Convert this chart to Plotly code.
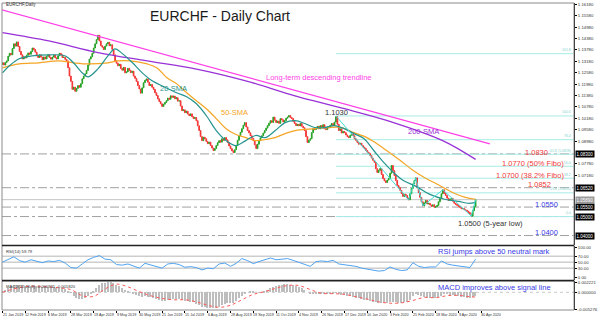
import plotly.graph_objects as go

# ---------------- DATA ----------------
closes = [
    1.1310, 1.1298, 1.1312, 1.1320, 1.1345, 1.1360, 1.1352, 1.1385, 1.1410, 1.1398, 1.1420, 1.1396, 1.1370, 1.1352, 1.1330, 1.1342,
    1.1336, 1.1350, 1.1362, 1.1355, 1.1370, 1.1388, 1.1380, 1.1366, 1.1347, 1.1338, 1.1352, 1.1340, 1.1326, 1.1341, 1.1330, 1.1344,
    1.1352, 1.1338, 1.1329, 1.1340, 1.1351, 1.1336, 1.1330, 1.1347, 1.1360, 1.1352, 1.1338, 1.1340, 1.1328, 1.1320, 1.1284, 1.1240,
    1.1212, 1.1170, 1.1182, 1.1160, 1.1175, 1.1190, 1.1181, 1.1200, 1.1226, 1.1240, 1.1252, 1.1270, 1.1298, 1.1330, 1.1342, 1.1360,
    1.1388, 1.1410, 1.1432, 1.1455, 1.1425, 1.1400, 1.1392, 1.1380, 1.1398, 1.1410, 1.1418, 1.1400, 1.1405, 1.1380, 1.1352, 1.1320,
    1.1308, 1.1294, 1.1302, 1.1280, 1.1271, 1.1286, 1.1257, 1.1262, 1.1281, 1.1270, 1.1258, 1.1266, 1.1240, 1.1228, 1.1212, 1.1190,
    1.1172, 1.1150, 1.1178, 1.1205, 1.1218, 1.1225, 1.1208, 1.1190, 1.1196, 1.1181, 1.1170, 1.1152, 1.1138, 1.1120, 1.1106, 1.1094,
    1.1080, 1.1092, 1.1101, 1.1110, 1.1124, 1.1118, 1.1136, 1.1128, 1.1135, 1.1120, 1.1126, 1.1108, 1.1110, 1.1082, 1.1058, 1.1062,
    1.1047, 1.1055, 1.1040, 1.1032, 1.1041, 1.1026, 1.1016, 1.1022, 1.1005, 1.0978, 1.0953, 1.0921, 1.0900, 1.0918, 1.0910, 1.0896,
    1.0884, 1.0892, 1.0874, 1.0861, 1.0848, 1.0858, 1.0874, 1.0889, 1.0900, 1.0892, 1.0910, 1.0902, 1.0916, 1.0904, 1.0890, 1.0872,
    1.0858, 1.0846, 1.0837, 1.0852, 1.0874, 1.0902, 1.0926, 1.0944, 1.0963, 1.0981, 1.0995, 1.0972, 1.0953, 1.0941, 1.0926, 1.0912,
    1.0900, 1.0878, 1.0858, 1.0881, 1.0900, 1.0915, 1.0926, 1.0940, 1.0953, 1.0966, 1.0979, 1.0992, 1.1005, 1.0996, 1.1024, 1.1008,
    1.0995, 1.1003, 1.0991, 1.1016, 1.1010, 1.0998, 1.1005, 1.1018, 1.1024, 1.1032, 1.1022, 1.1016, 1.1001, 1.0990, 1.0979, 1.0986,
    1.0978, 1.0990, 1.0976, 1.0968, 1.0953, 1.0921, 1.0890, 1.0902, 1.0910, 1.0942, 1.0963, 1.0958, 1.0968, 1.0975, 1.0962, 1.0979,
    1.0971, 1.0984, 1.0963, 1.0958, 1.0972, 1.0968, 1.0981, 1.0990, 1.0979, 1.0998, 1.1026, 1.0986, 1.0953, 1.0962, 1.0940, 1.0948,
    1.0942, 1.0930, 1.0921, 1.0916, 1.0928, 1.0935, 1.0926, 1.0910, 1.0902, 1.0890, 1.0881, 1.0886, 1.0874, 1.0866, 1.0859, 1.0848,
    1.0839, 1.0832, 1.0821, 1.0808, 1.0796, 1.0785, 1.0752, 1.0732, 1.0744, 1.0753, 1.0722, 1.0700, 1.0688, 1.0679, 1.0692, 1.0700,
    1.0728, 1.0769, 1.0742, 1.0716, 1.0690, 1.0664, 1.0652, 1.0638, 1.0621, 1.0606, 1.0618, 1.0611, 1.0598, 1.0588, 1.0620, 1.0648,
    1.0672, 1.0690, 1.0704, 1.0654, 1.0626, 1.0601, 1.0578, 1.0556, 1.0572, 1.0585, 1.0566, 1.0570, 1.0561, 1.0554, 1.0562, 1.0549,
    1.0552, 1.0559, 1.0578, 1.0596, 1.0620, 1.0641, 1.0622, 1.0611, 1.0597, 1.0585, 1.0592, 1.0596, 1.0581, 1.0570, 1.0565, 1.0559,
    1.0554, 1.0549, 1.0541, 1.0543, 1.0536, 1.0533, 1.0528, 1.0522, 1.0514, 1.0502, 1.0531, 1.0552, 1.0589,
]
first_open = 1.1302

sma20_idx = [0, 4.8, 11.7, 20.7, 32.5, 44.2, 49.8, 56.7, 60.1, 67, 74, 78.8, 84.3, 91.2, 98.1, 105, 113.3, 122.3,
             129.2, 136.1, 143.1, 150, 156.9, 163.8, 170.7, 177.6, 184.5, 191.4, 198.3, 205.3, 212.2, 219.1,
             226, 232.9, 239.8, 246.7, 253.6, 260.5, 267.5, 274.4, 281.3, 290.3, 299.9, 310.3, 320, 326.9, 332]
sma20_val = [1.1257, 1.1294, 1.1331, 1.1346, 1.1352, 1.1346, 1.1310, 1.1252, 1.1236, 1.1278, 1.1346, 1.1383, 1.1357,
             1.1310, 1.1257, 1.1215, 1.1184, 1.1152, 1.1131, 1.1094, 1.1031, 1.0953, 1.0900, 1.0874, 1.0900, 1.0927,
             1.0916, 1.0953, 1.0995, 1.1005, 1.0990, 1.0969, 1.0969, 1.0979, 1.0963, 1.0937, 1.0911, 1.0848, 1.0785,
             1.0732, 1.0690, 1.0659, 1.0617, 1.0591, 1.0580, 1.0570, 1.0575]

sma50_idx = [0, 11.7, 25.6, 39.4, 49.8, 60.1, 74, 80.9, 89.8, 101.6, 108.5, 115.4, 122.3, 129.2, 136.1, 143.1, 150,
             156.9, 163.8, 170.7, 177.6, 184.5, 191.4, 198.3, 205.3, 219.1, 228.1, 237.7, 246.7, 255.7, 260.5,
             269.5, 279.2, 288.2, 297.2, 306.8, 315.8, 324.8, 332]
sma50_val = [1.1283, 1.1304, 1.1310, 1.1320, 1.1310, 1.1304, 1.1310, 1.1320, 1.1320, 1.1304, 1.1283, 1.1231, 1.1199,
             1.1152, 1.1110, 1.1068, 1.1016, 1.0963, 1.0932, 1.0916, 1.0900, 1.0906, 1.0916, 1.0937, 1.0953, 1.0963,
             1.0969, 1.0969, 1.0942, 1.0916, 1.0895, 1.0848, 1.0795, 1.0743, 1.0701, 1.0664, 1.0627, 1.0601, 1.0591]

sma200_idx = [0, 32.5, 67, 101.6, 136.1, 170.7, 205.3, 239.8, 274.4, 308.9, 332]
sma200_val = [1.1469, 1.1425, 1.1364, 1.1320, 1.1277, 1.1215, 1.1136, 1.1068, 1.0995, 1.0900, 1.0801]

trend_idx = [-2, 342]
trend_val = [1.1592, 1.0883]

zigzag_idx = [234, 285, 290, 295, 309, 329, 332]
zigzag_val = [1.1030, 1.0588, 1.0704, 1.0556, 1.0641, 1.0502, 1.0589]

fib_start = 234
fib_levels = [1.0500, 1.0625, 1.0702, 1.0765, 1.0828, 1.0905, 1.1030, 1.1358]
fib_names = ["0.0", "23.6 (1.0625)", "38.2", "50.0", "61.8 (1.0828)", "76.4", "100.0", "161.8"]

key_levels = [1.0830, 1.0652, 1.0550, 1.0500, 1.0400]
current_price = 1.0589

rsi_vals = [50, 60, 68, 55, 50, 58, 52, 48, 54, 52, 56, 47, 32, 30, 44, 58,
            66, 72, 60, 58, 42, 40, 44, 38, 30, 46, 40, 34, 30, 44, 46, 42,
            33, 35, 32, 24, 30, 28, 44, 47, 36, 46, 62, 55, 45, 52, 58, 64,
            58, 60, 62, 56, 50, 44, 36, 52, 54, 52, 56, 44, 42, 40, 36, 30,
            26, 22, 20, 22, 34, 26, 22, 24, 48, 36, 32, 34, 34, 54, 44, 40,
            38, 36, 32, 60]
rsi_idx = list(range(0, 333, 4))

macd_hist_pips = [5, 8, 12, 16, 20, 22, 22, 20,
                  18, 18, 19, 19, 18, 17, 16, 15,
                  15, 14, 14, 13, 13, 12, 10, 5,
                  -2, -10, -16, -20, -20, -17, -12, -4,
                  4, 12, 20, 26, 28, 29, 30, 27,
                  22, 17, 12, 7, 3, 0, -3, -7,
                  -12, -13, -12, -13, -15, -17, -20, -23,
                  -25, -25, -23, -21, -20, -20, -20, -23,
                  -25, -27, -28, -30, -34, -38, -42, -44,
                  -46, -47, -47, -45, -42, -38, -35, -33,
                  -32, -31, -26, -18, -10, -4, 0, 2,
                  2, 0, -2, 0, 4, 8, 12, 16,
                  19, 21, 22, 23, 23, 22, 20, 18,
                  16, 12, 6, 0, -4, -6, -6, -5,
                  -5, -5, -5, -4, -3, -2, -4, -7,
                  -9, -11, -12, -14, -16, -18, -20, -22,
                  -24, -26, -28, -30, -32, -33, -33, -33,
                  -30, -29, -30, -31, -31, -30, -28, -24,
                  -12, -6, -8, -12, -15, -17, -18, -18,
                  -17, -14, -10, -6, -6, -7, -9, -10,
                  -12, -13, -14, -16, -17, -15, -11]
macd_hist_idx = list(range(0, 333, 2))

macd_sig_pips = [0, 10, 17, 18, 16, 13, 8, -10, -12, 10, 24, 16, 2, -10, -18, -22, -22, -28, -38, -44, -38,
                 -22, -6, 2, 12, 20, 20, 8, -3, -4, -6, -13, -20, -28, -32, -31, -24, -15, -16, -10, -9, -13, -14]
macd_sig_idx = list(range(0, 329, 8)) + [332]

date_labels = ["21 Jan 2019", "12 Feb 2019", "6 Mar 2019", "28 Mar 2019", "19 Apr 2019", "9 May 2019",
               "30 May 2019", "21 Jun 2019", "15 Jul 2019", "6 Aug 2019", "28 Aug 2019", "19 Sep 2019",
               "11 Oct 2019", "4 Nov 2019", "26 Nov 2019", "17 Dec 2019", "10 Jan 2020", "3 Feb 2020",
               "25 Feb 2020", "18 Mar 2020", "9 Apr 2020", "30 Apr 2020"]
date_label_step = 16

price_ticks = [1.1618, 1.1558, 1.1498, 1.1438, 1.1378, 1.1318, 1.1258, 1.1198, 1.1138, 1.1078,
               1.1018, 1.0958, 1.0898, 1.0778, 1.0718]
rsi_ticks = [100, 70, 50, 30, 0]
macd_ticks = [0.0028, 0.0, -0.0050]
macd_tick_text = ["0.002221", "0.000000", "-0.005276"]

# ---------------- DERIVED ----------------
bars = list(range(len(closes)))
opens = [first_open] + closes[:-1]
highs = [max(o, c) for o, c in zip(opens, closes)]
lows = [min(o, c) for o, c in zip(opens, closes)]
macd_hist = [v * 1e-4 for v in macd_hist_pips]
macd_sig = [v * 1e-4 for v in macd_sig_pips]

X_RANGE = [-0.35, 401.05]
FONT = "Arial, Liberation Sans, sans-serif"
D_MAIN = [0.2110, 1.0]
D_RSI = [0.0974, 0.2094]
D_MACD = [0.0, 0.0942]

fig = go.Figure()

fig.add_trace(go.Candlestick(
    x=bars, open=opens, high=highs, low=lows, close=closes,
    increasing=dict(line=dict(color="#26a326", width=1), fillcolor="#26a326"),
    decreasing=dict(line=dict(color="#f53535", width=1), fillcolor="#f53535"),
    whiskerwidth=0, showlegend=False, hoverinfo="skip", xaxis="x", yaxis="y"))
fig.add_trace(go.Scatter(x=sma200_idx, y=sma200_val, mode="lines", line=dict(color="#9932d6", width=1.3),
                         line_shape="spline", showlegend=False, hoverinfo="skip", xaxis="x", yaxis="y"))
fig.add_trace(go.Scatter(x=sma50_idx, y=sma50_val, mode="lines", line=dict(color="#f5a524", width=1.2),
                         line_shape="spline", showlegend=False, hoverinfo="skip", xaxis="x", yaxis="y"))
fig.add_trace(go.Scatter(x=sma20_idx, y=sma20_val, mode="lines", line=dict(color="#26948f", width=1.2),
                         line_shape="spline", showlegend=False, hoverinfo="skip", xaxis="x", yaxis="y"))
fig.add_trace(go.Scatter(x=trend_idx, y=trend_val, mode="lines", line=dict(color="#ff3fe6", width=1.3),
                         showlegend=False, hoverinfo="skip", xaxis="x", yaxis="y"))
fig.add_trace(go.Scatter(x=zigzag_idx, y=zigzag_val, mode="lines", line=dict(color="#3fdcd4", width=1),
                         showlegend=False, hoverinfo="skip", xaxis="x", yaxis="y"))

fig.add_trace(go.Scatter(x=rsi_idx, y=rsi_vals, mode="lines", line=dict(color="#4fa3f2", width=1),
                         showlegend=False, hoverinfo="skip", xaxis="x", yaxis="y2"))

fig.add_trace(go.Bar(x=macd_hist_idx, y=macd_hist, marker=dict(color="#bdbdbd", line=dict(width=0)),
                     width=1.0, showlegend=False, hoverinfo="skip", xaxis="x", yaxis="y3"))
fig.add_trace(go.Scatter(x=macd_sig_idx, y=macd_sig, mode="lines", line=dict(color="#ff5a5a", width=1, dash="dot"),
                         line_shape="spline", showlegend=False, hoverinfo="skip", xaxis="x", yaxis="y3"))

shapes = []
shapes.append(dict(type="rect", xref="paper", yref="paper", x0=0, x1=1, y0=0, y1=1,
                   line=dict(color="#8a8a8a", width=1)))
for yy in [(D_MAIN[0] + D_RSI[1]) / 2, (D_RSI[0] + D_MACD[1]) / 2]:
    shapes.append(dict(type="line", xref="paper", yref="paper", x0=0, x1=1, y0=yy, y1=yy,
                       line=dict(color="#222222", width=1.6)))
for lv in [70, 50, 30]:
    shapes.append(dict(type="line", xref="paper", yref="y2", x0=0, x1=1, y0=lv, y1=lv,
                       line=dict(color="#b5b5b5", width=1), layer="below"))
shapes.append(dict(type="line", xref="paper", yref="y3", x0=0, x1=1, y0=0, y1=0,
                   line=dict(color="#c8c8c8", width=1, dash="dot"), layer="below"))
for lv in fib_levels:
    shapes.append(dict(type="line", xref="x", yref="y", x0=fib_start, x1=X_RANGE[1], y0=lv, y1=lv,
                       line=dict(color="#a6ece6", width=1), layer="below"))
for lv in key_levels:
    shapes.append(dict(type="line", xref="paper", yref="y", x0=0, x1=1, y0=lv, y1=lv,
                       line=dict(color="#a0a0a0", width=1, dash="dashdot"), layer="below"))
shapes.append(dict(type="line", xref="paper", yref="y", x0=0, x1=1, y0=current_price, y1=current_price,
                   line=dict(color="#c4c4c4", width=1), layer="below"))

ann = []
def txt(x, y, text, color, size, xref="x", yref="y", xanchor="center", yanchor="middle", **kw):
    ann.append(dict(x=x, y=y, xref=xref, yref=yref, text=text, showarrow=False,
                    font=dict(family=FONT, size=size, color=color), xanchor=xanchor, yanchor=yanchor, **kw))

txt(0.3806, 0.9578, "EURCHF - Daily Chart", "#1a1a1a", 14, xref="paper", yref="paper")
txt(0.004, 0.9935, "EURCHF,Daily", "#333333", 4.5, xref="paper", yref="paper", xanchor="left")
txt(221.5, 1.1231, "Long-term descending trendline", "#ff3fe6", 7.5)
txt(119.8, 1.1173, "20-SMA", "#26948f", 7.5)
txt(162.5, 1.1047, "50-SMA", "#f5a524", 7.5)
txt(295.5, 1.0950, "200-SMA", "#9932d6", 7.5)
txt(234.4, 1.1047, "1.1030", "#333333", 7.5)
txt(375.0, 1.0837, "1.0830", "#f03a3a", 7.5)
txt(372.0, 1.0777, "1.0770 (50% Fibo)", "#f03a3a", 7.5)
txt(370.0, 1.0714, "1.0700 (38.2% Fibo)", "#f03a3a", 7.5)
txt(377.0, 1.0669, "1.0852", "#f03a3a", 7.5)
txt(381.6, 1.0564, "1.0550", "#3a3ae6", 7.5)
txt(342.7, 1.0465, "1.0500 (5-year low)", "#333333", 7.5)
txt(381.6, 1.0417, "1.0400", "#3a3ae6", 7.5)
txt(344.8, 86, "RSI jumps above 50 neutral mark", "#3a3ae6", 7.5, yref="y2")
txt(345.5, 0.0014, "MACD improves above signal line", "#3a3ae6", 7.5, yref="y3")
txt(0.004, D_RSI[1] - 0.004, "RSI(14) 59.79", "#333333", 4.2, xref="paper", yref="paper",
    xanchor="left", yanchor="top")
txt(0.004, D_MACD[1] - 0.004, "MACD(12,26,9) -0.000931 -0.001820", "#333333", 4.2, xref="paper", yref="paper",
    xanchor="left", yanchor="top")
for lv, nm in zip(fib_levels, fib_names):
    txt(1, lv, nm, "#7fd3cc", 3.5, xref="paper", xanchor="right", yanchor="bottom", xshift=-1, yshift=-0.5)
for lv in key_levels:
    ann.append(dict(x=1, y=lv, xref="paper", yref="y", text="%.5f" % lv, showarrow=False, xanchor="left",
                    xshift=1, font=dict(family=FONT, size=4.5, color="white"), bgcolor="#000000", borderpad=0.5))
ann.append(dict(x=1, y=current_price, xref="paper", yref="y", text="%.5f" % current_price, showarrow=False,
                xanchor="left", xshift=1, font=dict(family=FONT, size=4.5, color="white"),
                bgcolor="#9a9a9a", borderpad=0.5))
for i, lab in enumerate(date_labels):
    ann.append(dict(x=i * date_label_step, y=-0.002, xref="x", yref="paper", text=lab, showarrow=False,
                    xanchor="left", yanchor="top", xshift=-2, font=dict(family=FONT, size=3.7, color="#333333")))

axis_common = dict(showgrid=False, zeroline=False, side="right", showline=True, linecolor="#000000",
                   linewidth=1, ticks="outside", ticklen=2, tickcolor="#000000",
                   tickfont=dict(family=FONT, size=4.3, color="#333333"), fixedrange=True)

fig.update_layout(
    width=600, height=317,
    margin=dict(l=2, r=20, t=2, b=7),
    paper_bgcolor="white", plot_bgcolor="white",
    showlegend=False, bargap=0,
    xaxis=dict(domain=[0, 1], range=X_RANGE, anchor="y3", showgrid=False, zeroline=False,
               tickvals=[i * date_label_step for i in range(len(date_labels))], ticks="outside",
               ticklen=2, tickcolor="#000000", showticklabels=False, showline=False,
               rangeslider=dict(visible=False), fixedrange=True),
    yaxis=dict(domain=D_MAIN, range=[1.0349, 1.1625], anchor="x",
               tickvals=price_ticks, ticktext=["%.5f" % v for v in price_ticks], **axis_common),
    yaxis2=dict(domain=D_RSI, range=[-10, 105], anchor="x",
                tickvals=rsi_ticks, ticktext=["%.2f" % v for v in rsi_ticks], **axis_common),
    yaxis3=dict(domain=D_MACD, range=[-0.0052, 0.0033], anchor="x",
                tickvals=macd_ticks, ticktext=macd_tick_text, **axis_common),
    shapes=shapes, annotations=ann,
)

fig.write_html("out.html")
